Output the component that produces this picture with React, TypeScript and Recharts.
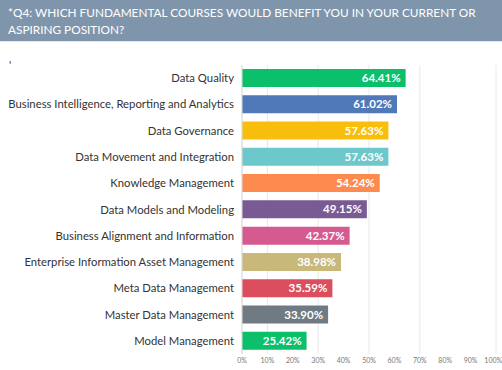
import React from 'react';
import { BarChart, Bar, XAxis, YAxis, CartesianGrid, Cell, LabelList } from 'recharts';

const courses = [
  'Data Quality',
  'Business Intelligence, Reporting and Analytics',
  'Data Governance',
  'Data Movement and Integration',
  'Knowledge Management',
  'Data Models and Modeling',
  'Business Alignment and Information',
  'Enterprise Information Asset Management',
  'Meta Data Management',
  'Master Data Management',
  'Model Management',
];
const shares = [64.41, 61.02, 57.63, 57.63, 54.24, 49.15, 42.37, 38.98, 35.59, 33.9, 25.42];
const colors = [
  '#0bbf6b', '#4f79b8', '#f9bd0b', '#6cc8ca', '#fd8a4e', '#7a5a92',
  '#d55a8f', '#c8b87a', '#dc4d5d', '#6f7a82', '#0bbf6b',
];
const xTicks = [0, 10, 20, 30, 40, 50, 60, 70, 80, 90, 100];

const data = courses.map((name, i) => ({ name, value: shares[i] }));

// single-line category label (recharts would wrap the long ones)
const CourseTick = (props: any) => {
  const { x, y, payload } = props;
  return (
    <text x={x} y={y} dy="0.355em" textAnchor="end" fontSize={11.3} fill="#333">
      {payload.value}
    </text>
  );
};

export default function App() {
  return (
    <div style={{ position: 'absolute', left: 0, top: 0, width: 502, height: 370, background: '#fff', fontFamily: 'Lato, sans-serif' }}>
      <div style={{ position: 'absolute', left: 0, top: 0, width: 502, height: 41, background: '#7f95ac', borderBottom: '1px solid #e4e8ec' }}>
        <div style={{ position: 'absolute', left: 8, top: 4, color: '#fff', fontSize: 11.8, lineHeight: '17px' }}>
          *Q4: WHICH FUNDAMENTAL COURSES WOULD BENEFIT YOU IN YOUR CURRENT OR
          <br />
          ASPIRING POSITION?
        </div>
      </div>
      <div style={{ position: 'absolute', left: 9, top: 58, fontSize: 11, color: '#333' }}>'</div>
      <BarChart
        width={502}
        height={370}
        data={data}
        layout="vertical"
        margin={{ top: 65, right: 6, bottom: 0, left: 0 }}
        barSize={18}
      >
        <CartesianGrid horizontal={false} stroke="#e8e8e8" />
        <XAxis
          type="number"
          domain={[0, 100]}
          ticks={xTicks}
          tickFormatter={(v) => `${v}%`}
          axisLine={false}
          tickLine={false}
          tickSize={0}
          tickMargin={4}
          height={16}
          tick={{ fontSize: 7, fill: '#777' }}
        />
        <YAxis
          type="category"
          dataKey="name"
          width={242}
          tickLine={false}
          tickSize={0}
          tickMargin={8}
          axisLine={{ stroke: '#dddddd' }}
          interval={0}
          tick={<CourseTick />}
        />
        <Bar dataKey="value" isAnimationActive={false}>
          {data.map((d, i) => (
            <Cell key={d.name} fill={colors[i]} />
          ))}
          <LabelList
            dataKey="value"
            position="insideRight"
            offset={5}
            formatter={(v: number) => `${v.toFixed(2)}%`}
            style={{ fill: '#fff', fontSize: 11.5, fontWeight: 700 }}
          />
        </Bar>
      </BarChart>
    </div>
  );
}
